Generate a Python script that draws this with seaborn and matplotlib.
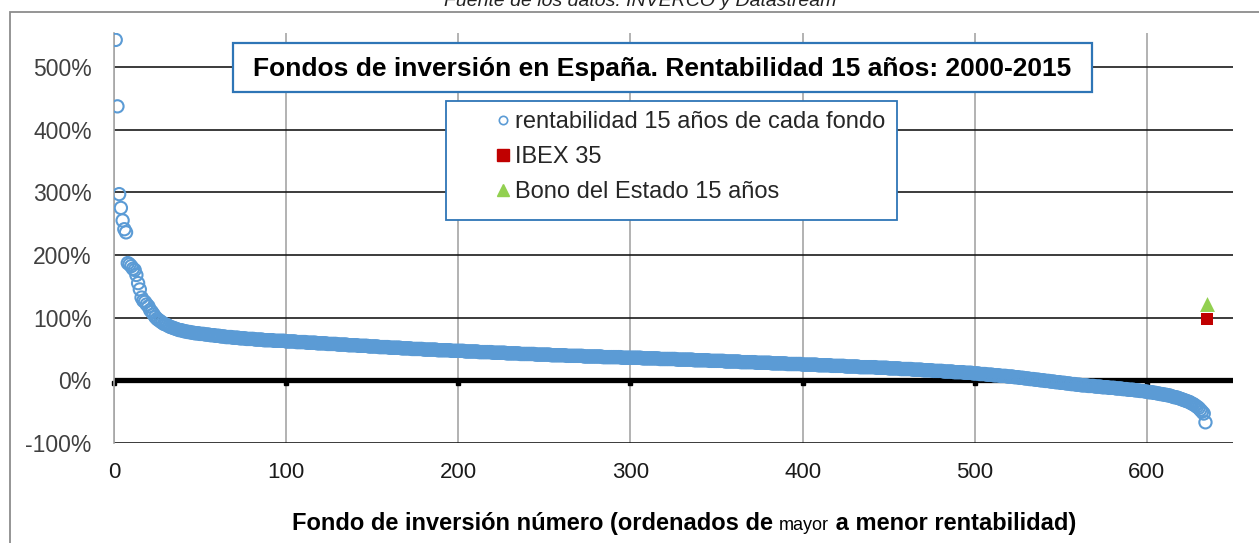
import numpy as np
import matplotlib
matplotlib.use('Agg')
import matplotlib.pyplot as plt
import matplotlib.transforms as mtransforms
from matplotlib.lines import Line2D
from matplotlib.patches import Rectangle
from matplotlib import font_manager
import seaborn as sns

# DATOS (rentabilidad acumulada 15 años, en %, ordenada de mayor a menor)
rentabilidad = [
    543, 437, 297, 275, 255, 241, 236, 187, 185, 182, 178, 176, 168, 155, 145, 132, 127, 125, 121, 118,
    112, 109, 105, 101, 98, 96, 94, 92, 90, 89, 88, 86, 85, 84, 83, 82, 81, 80, 80, 79,
    78, 78, 77, 77, 76, 76, 75, 75, 75, 74, 74, 74, 73, 73, 73, 72, 72, 72, 71, 71,
    71, 70, 70, 70, 69, 69, 69, 69, 68, 68, 68, 68, 67, 67, 67, 67, 66, 66, 66, 66,
    66, 65, 65, 65, 65, 65, 64, 64, 64, 64, 64, 64, 63, 63, 63, 63, 63, 63, 63, 62,
    62, 62, 62, 62, 62, 61, 61, 61, 61, 61, 61, 60, 60, 60, 60, 60, 60, 59, 59, 59,
    59, 59, 59, 58, 58, 58, 58, 58, 58, 57, 57, 57, 57, 57, 57, 56, 56, 56, 56, 56,
    56, 55, 55, 55, 55, 55, 55, 54, 54, 54, 54, 54, 54, 53, 53, 53, 53, 53, 53, 52,
    52, 52, 52, 52, 52, 52, 51, 51, 51, 51, 51, 51, 50, 50, 50, 50, 50, 50, 50, 49,
    49, 49, 49, 49, 49, 49, 49, 48, 48, 48, 48, 48, 48, 48, 48, 47, 47, 47, 47, 47,
    47, 47, 47, 46, 46, 46, 46, 46, 46, 46, 46, 45, 45, 45, 45, 45, 45, 45, 45, 44,
    44, 44, 44, 44, 44, 44, 44, 43, 43, 43, 43, 43, 43, 43, 43, 42, 42, 42, 42, 42,
    42, 42, 42, 42, 41, 41, 41, 41, 41, 41, 41, 41, 41, 40, 40, 40, 40, 40, 40, 40,
    40, 40, 39, 39, 39, 39, 39, 39, 39, 39, 39, 39, 38, 38, 38, 38, 38, 38, 38, 38,
    38, 38, 38, 37, 37, 37, 37, 37, 37, 37, 37, 37, 37, 37, 36, 36, 36, 36, 36, 36,
    36, 36, 36, 36, 36, 36, 35, 35, 35, 35, 35, 35, 35, 35, 35, 35, 34, 34, 34, 34,
    34, 34, 34, 34, 34, 34, 33, 33, 33, 33, 33, 33, 33, 33, 33, 33, 32, 32, 32, 32,
    32, 32, 32, 32, 32, 31, 31, 31, 31, 31, 31, 31, 31, 31, 30, 30, 30, 30, 30, 30,
    30, 30, 30, 29, 29, 29, 29, 29, 29, 29, 29, 29, 28, 28, 28, 28, 28, 28, 28, 28,
    28, 27, 27, 27, 27, 27, 27, 27, 27, 27, 26, 26, 26, 26, 26, 26, 26, 26, 26, 25,
    25, 25, 25, 25, 25, 25, 25, 25, 24, 24, 24, 24, 24, 24, 24, 24, 23, 23, 23, 23,
    23, 23, 23, 23, 22, 22, 22, 22, 22, 22, 22, 22, 21, 21, 21, 21, 21, 21, 21, 21,
    21, 21, 20, 20, 20, 20, 20, 20, 20, 19, 19, 19, 19, 19, 19, 19, 18, 18, 18, 18,
    18, 18, 18, 17, 17, 17, 17, 17, 17, 16, 16, 16, 16, 16, 16, 15, 15, 15, 15, 15,
    15, 14, 14, 14, 14, 14, 14, 13, 13, 13, 13, 13, 13, 12, 12, 12, 12, 12, 11, 11,
    11, 11, 10, 10, 10, 10, 9, 9, 9, 9, 8, 8, 8, 8, 7, 7, 7, 7, 6, 6,
    6, 6, 5, 5, 5, 4, 4, 4, 3, 3, 3, 2, 2, 2, 1, 1, 1, 0, 0, 0,
    -1, -1, -1, -2, -2, -2, -3, -3, -3, -4, -4, -4, -5, -5, -5, -6, -6, -6, -7, -7,
    -7, -8, -8, -8, -8, -9, -9, -9, -9, -10, -10, -10, -10, -11, -11, -11, -11, -12, -12, -12,
    -12, -13, -13, -13, -13, -14, -14, -14, -15, -15, -15, -15, -16, -16, -16, -17, -17, -17, -18, -18,
    -19, -19, -19, -20, -20, -21, -21, -22, -22, -23, -23, -24, -24, -25, -26, -27, -27, -28, -29, -30,
    -31, -32, -33, -34, -35, -37, -38, -40, -42, -44, -47, -50, -53, -67,
]
fondo = np.arange(1, len(rentabilidad) + 1)

ibex_x, ibex_y = [635], [98]
bono_x, bono_y = [635], [121]

x_ticks = [0, 100, 200, 300, 400, 500, 600]
y_ticks = [-100, 0, 100, 200, 300, 400, 500]
y_labels = [f'{v}%' for v in y_ticks]

TITULO = 'Fondos de inversión en España. Rentabilidad 15 años: 2000-2015'
LEYENDA = ['rentabilidad 15 años de cada fondo', 'IBEX 35', 'Bono del Estado 15 años']
FUENTE = 'Fuente de los datos: INVERCO y Datastream'
XLABEL = ['Fondo de inversión número (ordenados de ', 'mayor', ' a menor rentabilidad)']

AZUL = '#5B9BD5'
ROJO = '#C00000'
VERDE = '#92D050'
BORDE = '#2E75B6'

W, H = 1259, 543

sns.set_style('white')
plt.rcParams['font.family'] = ['Liberation Sans', 'DejaVu Sans']
nombres = {f.name for f in font_manager.fontManager.ttflist}
NARROW = 'Liberation Sans Narrow' if 'Liberation Sans Narrow' in nombres else 'Liberation Sans'


def fx(x):
    return x / W


def fy(y):
    return 1 - y / H


fig = plt.figure(figsize=(W / 100, H / 100), dpi=100, facecolor='white')
ax = fig.add_axes([fx(114), fy(443), fx(1233) - fx(114), fy(33) - fy(443)])

# linea de cero gruesa con marcas
ax.axhline(0, color='black', lw=3.8, zorder=2)
off = mtransforms.offset_copy(ax.transData, fig=fig, x=0, y=-2.5, units='dots')
ax.plot(x_ticks, [0] * len(x_ticks), ls='', marker='s', ms=3.2, color='black',
        transform=off, zorder=2, clip_on=False)

sns.scatterplot(x=fondo, y=rentabilidad, ax=ax, marker='o', s=78,
                facecolors='none', edgecolor=AZUL, linewidth=1.5, zorder=3, legend=False)
sns.scatterplot(x=ibex_x, y=ibex_y, ax=ax, marker='s', s=85, color=ROJO,
                edgecolor=ROJO, linewidth=0, zorder=4, legend=False)
sns.scatterplot(x=bono_x, y=bono_y, ax=ax, marker='^', s=115, color=VERDE,
                edgecolor=VERDE, linewidth=0, zorder=4, legend=False)

ax.set_xlim(0, 650)
ax.set_ylim(-100, 554)
ax.set_xticks(x_ticks)
ax.set_xticklabels([str(v) for v in x_ticks], fontsize=16, color='#1a1a1a', family=NARROW)
ax.set_yticks(y_ticks)
ax.set_yticklabels(y_labels, fontsize=16.5, color='#404040')
ax.tick_params(axis='y', length=0, pad=16)
ax.tick_params(axis='x', length=0, pad=14)
ax.xaxis.grid(True, color='#A6A6A6', lw=1.2, zorder=0)
ax.yaxis.grid(True, color='#1a1a1a', lw=1.2, zorder=0)
ax.set_axisbelow(True)
for s in ['top', 'right', 'bottom']:
    ax.spines[s].set_visible(False)
ax.spines['left'].set_color('#A6A6A6')
ax.spines['left'].set_linewidth(1.2)
ax.set_xlabel('')
ax.set_ylabel('')

# marco exterior
fig.patches.append(Rectangle((fx(10), fy(H + 10)), fx(W + 10), fy(12) - fy(H + 10),
                             transform=fig.transFigure, fill=False,
                             edgecolor='#8c8c8c', lw=1.3))

# caja del titulo
fig.patches.append(Rectangle((fx(233), fy(92)), fx(1092) - fx(233), fy(43) - fy(92),
                             transform=fig.transFigure, facecolor='white',
                             edgecolor=BORDE, lw=1.6, zorder=5))
fig.text(fx(662), fy(69), TITULO, ha='center', va='center', fontsize=19,
         fontweight='bold', color='black', zorder=6)

# caja de leyenda
fig.patches.append(Rectangle((fx(446), fy(220)), fx(897) - fx(446), fy(101) - fy(220),
                             transform=fig.transFigure, facecolor='white',
                             edgecolor=BORDE, lw=1.3, zorder=5))
handles = [
    Line2D([], [], ls='', marker='o', ms=6, mfc='none', mec=AZUL, mew=1.2),
    Line2D([], [], ls='', marker='s', ms=8, color=ROJO),
    Line2D([], [], ls='', marker='^', ms=9, color=VERDE),
]
leg = fig.legend(handles, LEYENDA, loc='upper left', bbox_to_anchor=(fx(488), fy(104)),
                 frameon=False, fontsize=17, handlelength=0.7, handletextpad=0.15,
                 labelspacing=0.55, borderaxespad=0, borderpad=0.3)
leg.set_zorder(7)

# fuente (cortada arriba, como en el original)
fig.text(fx(640), fy(2), FUENTE, ha='center', va='center', fontsize=14,
         style='italic', family=NARROW, color='#222222')

# etiqueta eje x con "mayor" mas pequeño
fig.canvas.draw()
r = fig.canvas.get_renderer()
estilos = [dict(fontsize=17, fontweight='bold', family=NARROW),
           dict(fontsize=13, fontweight='normal', family=NARROW),
           dict(fontsize=17, fontweight='bold', family=NARROW)]
piezas = [fig.text(0, fy(530), t, ha='left', va='baseline', color='black', **k)
          for t, k in zip(XLABEL, estilos)]
anchos = [p.get_window_extent(r).width for p in piezas]
x0 = 684 - sum(anchos) / 2
for p, a in zip(piezas, anchos):
    p.set_x(fx(x0))
    x0 += a

fig.savefig('out.png', dpi=100, facecolor='white')
